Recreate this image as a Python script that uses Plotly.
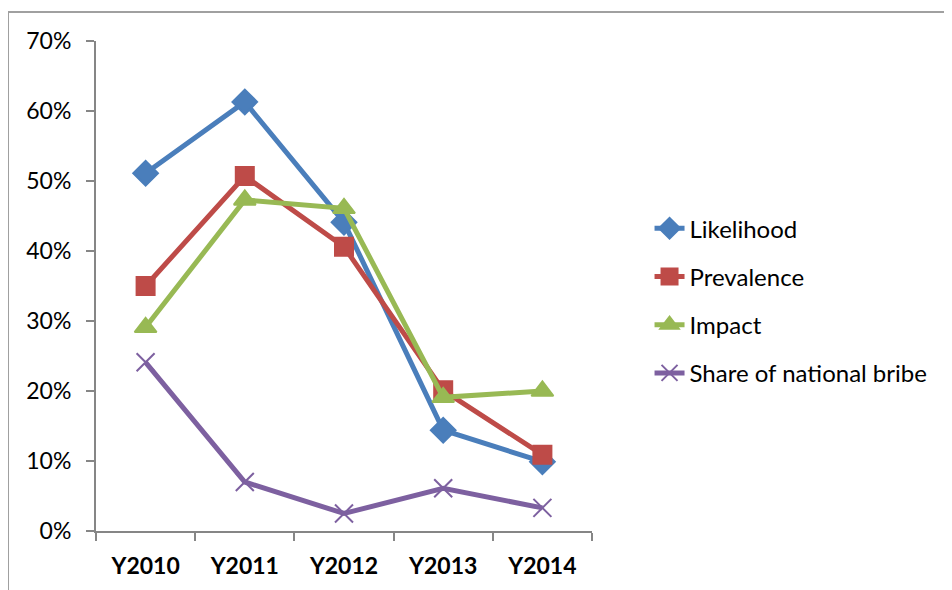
import plotly.graph_objects as go

years = ["Y2010", "Y2011", "Y2012", "Y2013", "Y2014"]
likelihood = [0.511, 0.613, 0.441, 0.144, 0.099]
prevalence = [0.350, 0.507, 0.406, 0.201, 0.109]
impact = [0.291, 0.473, 0.461, 0.191, 0.200]
share_bribe = [0.241, 0.070, 0.025, 0.061, 0.033]

series = [
    ("Likelihood", likelihood, "#4A7EBB", "diamond", 19),
    ("Prevalence", prevalence, "#BE4B48", "square", 18),
    ("Impact", impact, "#98B954", "triangle-up", 19),
    ("Share of national bribe", share_bribe, "#7D60A0", "x-thin", 18),
]

font_family = "Lato, Liberation Sans, Arial, sans-serif"

fig = go.Figure()
for name, vals, color, symbol, size in series:
    fig.add_trace(go.Scatter(
        x=years, y=vals, name=name, mode="lines+markers",
        legendgroup=name,
        line=dict(color=color, width=5),
        marker=dict(symbol=symbol, size=size, color=color,
                    line=dict(color=color, width=2)),
    ))

axis_color = "#868686"
# page body has an 8px margin, so the figure is sized/offset to compensate
fig.update_layout(
    width=944, height=582,
    margin=dict(l=88, r=360, t=33, b=59),
    paper_bgcolor="white", plot_bgcolor="white",
    font=dict(family=font_family, size=23, color="black"),
    showlegend=True,
    legend=dict(x=1.116, y=0.47, xanchor="left", yanchor="middle",
                font=dict(size=24), tracegroupgap=14,
                bgcolor="rgba(0,0,0,0)"),
    xaxis=dict(range=[-0.5, 4.5],
               showline=True, linecolor=axis_color, linewidth=2,
               ticks="outside", tickson="boundaries", ticklen=8,
               tickcolor=axis_color, tickwidth=2, ticklabelstandoff=13,
               tickfont=dict(size=23),
               showgrid=False, zeroline=False,
               ticktext=["<b>%s</b>" % y for y in years], tickvals=years),
    yaxis=dict(range=[0, 0.7], dtick=0.1, tickformat=".0%",
               showline=True, linecolor=axis_color, linewidth=2,
               ticks="outside", ticklen=8, tickcolor=axis_color, tickwidth=2,
               ticklabelstandoff=10, tickfont=dict(size=23),
               showgrid=False, zeroline=False),
)

# frame of the chart area (left and top edges visible)
frame_color = "#A0A0A0"
fig.add_shape(type="line", xref="paper", yref="paper",
              x0=-0.1774, x1=-0.1774, y0=-0.2, y1=1.0592,
              line=dict(color=frame_color, width=2))
fig.add_shape(type="line", xref="paper", yref="paper",
              x0=-0.1774, x1=1.8, y0=1.0592, y1=1.0592,
              line=dict(color=frame_color, width=2))

fig.write_html("out.html")
